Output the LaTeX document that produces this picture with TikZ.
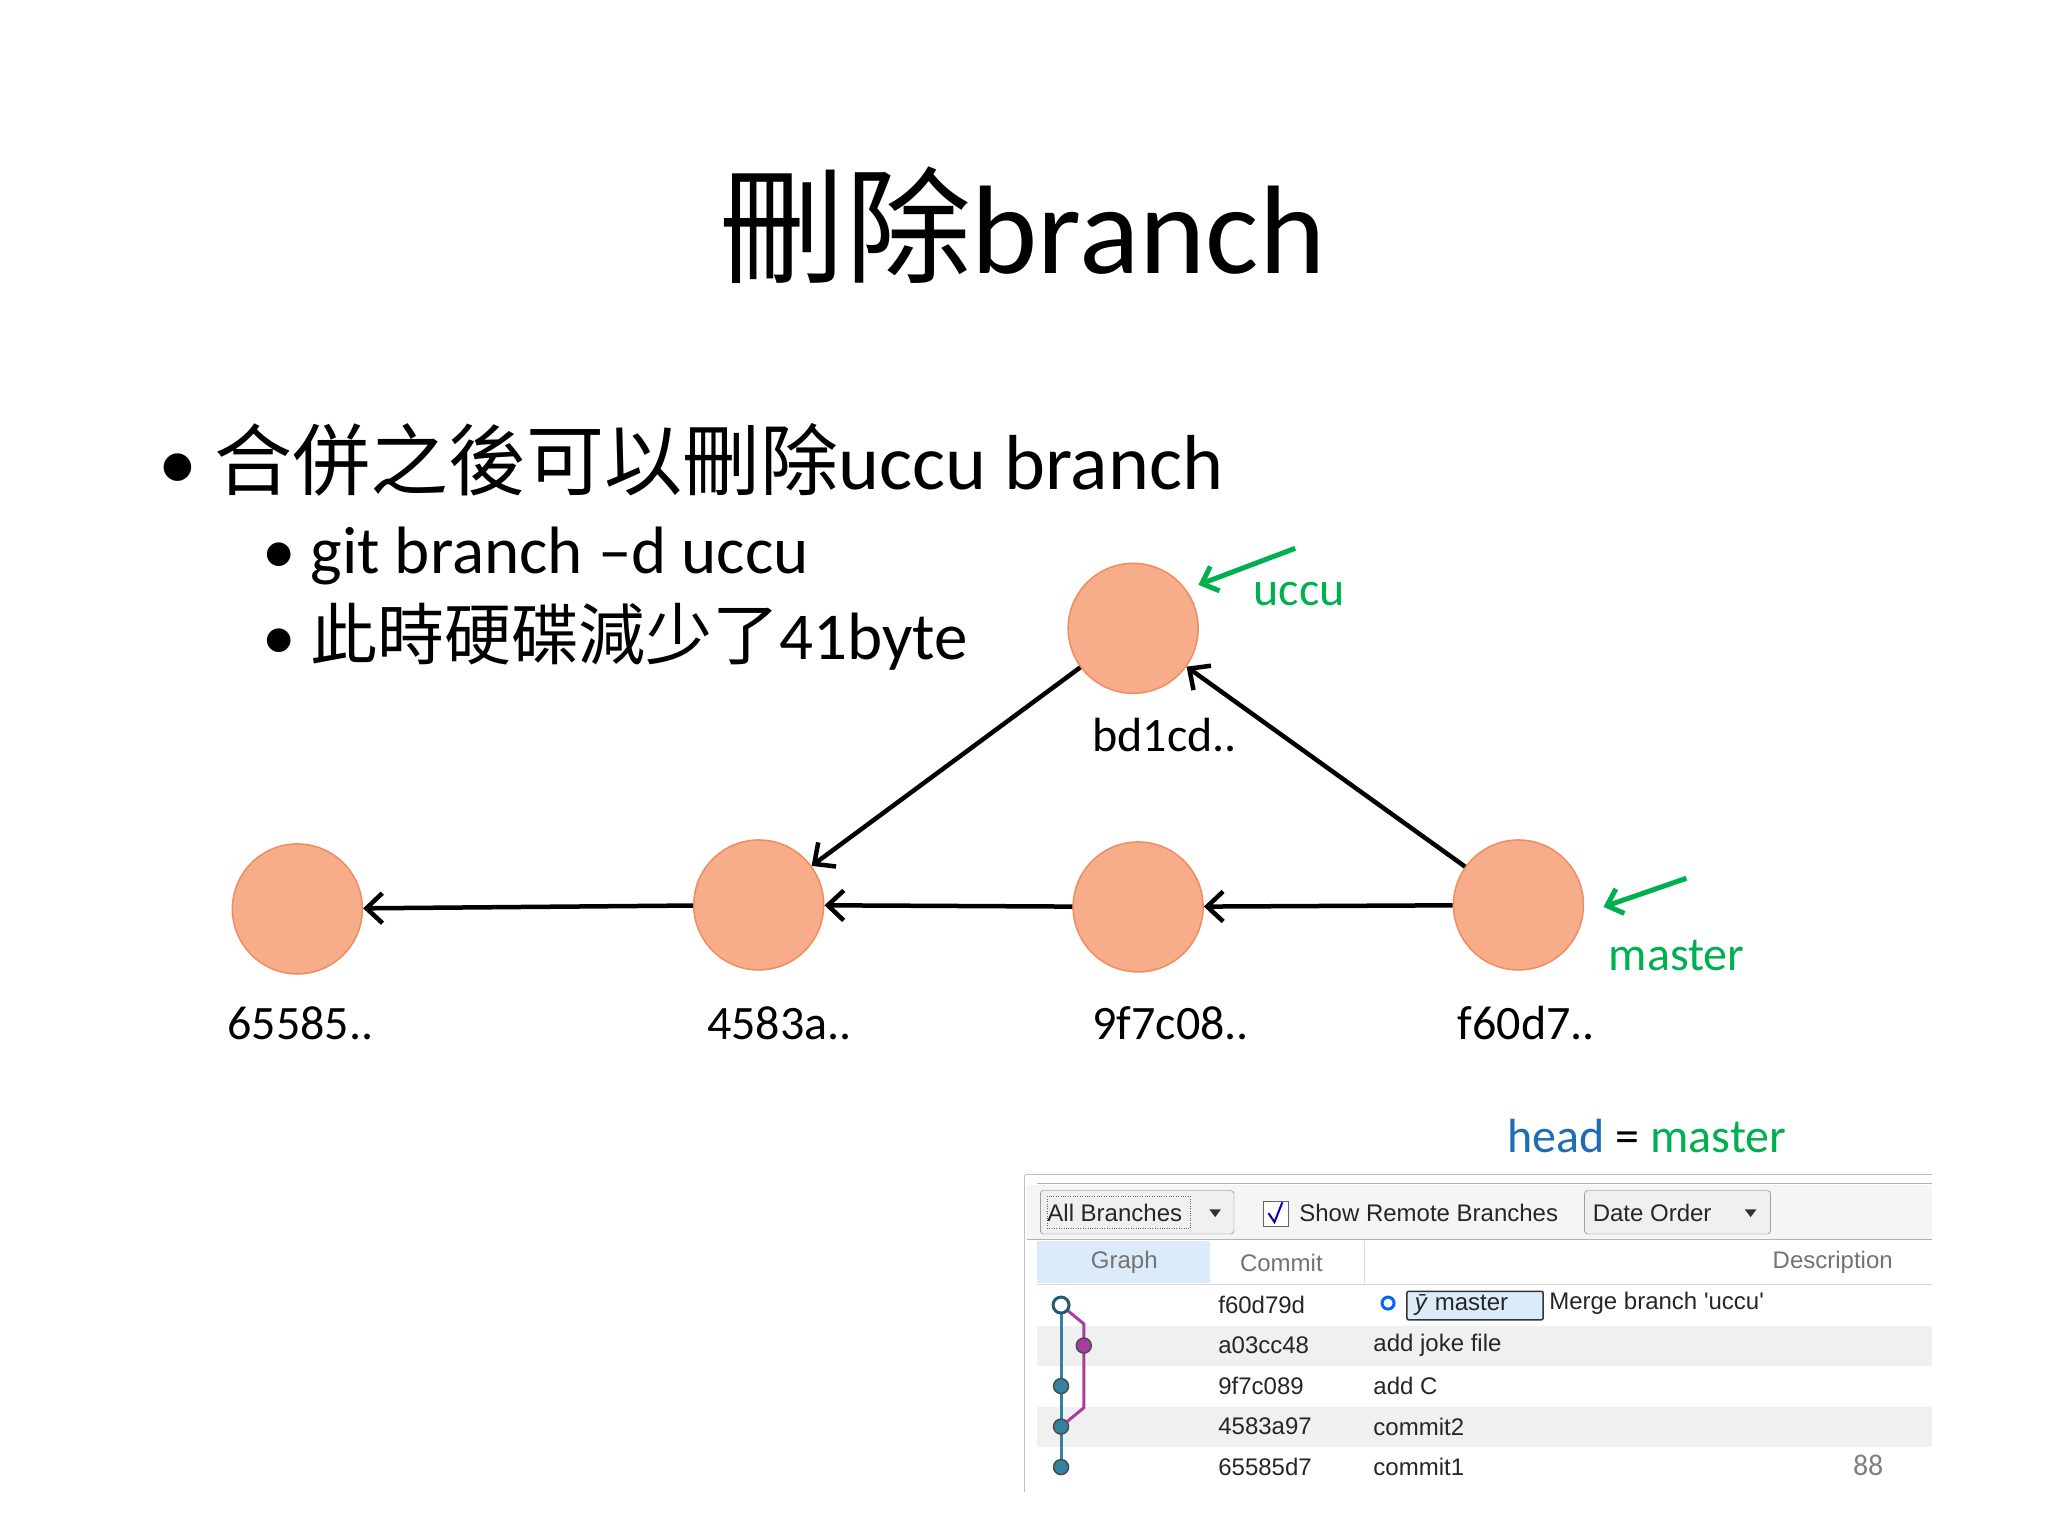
\documentclass[tikz,border=0pt]{standalone}
\usepackage{fontspec}
\setmainfont{Carlito}
\newfontfamily\cjk{Noto Sans CJK TC}
\newfontfamily\uifont{Liberation Sans}
\usetikzlibrary{arrows.meta}
\definecolor{nodefill}{RGB}{247,172,138}
\definecolor{nodedraw}{RGB}{240,140,95}
\definecolor{grn}{RGB}{0,176,80}
\definecolor{hblue}{RGB}{31,110,180}
\definecolor{gblue}{RGB}{50,130,160}
\definecolor{gpurp}{RGB}{170,60,160}
\definecolor{rowgray}{RGB}{240,240,240}
\definecolor{hdrblue}{RGB}{220,235,250}
\tikzset{
 commit/.style={circle,minimum size=130pt,inner sep=0pt,fill=nodefill,draw=nodedraw,line width=1.5pt},
 lbl/.style={font=\fontsize{48}{56}\selectfont,anchor=center},
 edge/.style={line width=4.5pt,-{Straight Barb[length=16pt,width=30pt,line width=4.5pt]}},
 garrow/.style={grn,line width=5pt,-{Straight Barb[length=14pt,width=26pt,line width=5pt]}},
 ss/.style={font=\uifont\fontsize{24}{28}\selectfont,text=black!85,inner sep=0pt},
 gdot/.style={circle,minimum size=15pt,inner sep=0pt,fill=gblue,draw=black!70,line width=1.5pt},
}
\begin{document}
\begin{tikzpicture}[x=0.988pt,y=-0.988pt]
\useasboundingbox[fill=white] (0,0) rectangle (2073,1555);
% title
\node (title) at (1035,228) {\fontsize{126}{140}\selectfont{\cjk 刪除}branch};
% bullets
\node[anchor=base west,inner sep=0pt] (b1) at (160,495) {\fontsize{78}{90}\selectfont • {\cjk 合併之後可以刪除}uccu branch};
\node[anchor=base west,inner sep=0pt] (b2) at (265,580) {\fontsize{67}{74}\selectfont • git branch –d uccu};
\node[anchor=base west,inner sep=0pt] (b3) at (265,668) {\fontsize{67}{74}\selectfont • {\cjk 此時硬碟減少了}41byte};
% commits
\node[commit] (c1) at (301,920) {};
\node[commit] (c2) at (768,916) {};
\node[commit] (c3) at (1152,918) {};
\node[commit] (c4) at (1537,916) {};
\node[commit] (c5) at (1147,636) {};
\node[lbl] (l1) at (304,1036) {65585..};
\node[lbl] (l2) at (789,1036) {4583a..};
\node[lbl] (l3) at (1185,1036) {9f7c08..};
\node[lbl] (l4) at (1545,1036) {f60d7..};
\node[lbl] (l5) at (1179,744) {bd1cd..};
\draw[edge] (c2) -- (c1);
\draw[edge] (c3) -- (c2);
\draw[edge] (c4) -- (c3);
\draw[edge] (c5) -- (c2);
\draw[edge] (c4) -- (c5);
% branch labels
\node[lbl,text=grn] (uccu) at (1315,601) {uccu};
\coordinate (ua) at (1311,555);
\coordinate (ub) at (1213,592);
\draw[garrow] (ua) -- (ub);
\node[lbl,text=grn] (master) at (1697,967) {master};
\coordinate (ma) at (1707,889);
\coordinate (mb) at (1623,918);
\draw[garrow] (ma) -- (mb);
\node[lbl] (head) at (1667,1150) {{\color{hblue}head} = {\color{grn}master}};
% screenshot
\draw[black!25,line width=1pt] (1037,1189) -- (1956,1189);
\draw[black!25,line width=1pt] (1037,1189) -- (1037,1510);
\draw[black!30,line width=1.5pt] (1050,1198) -- (1956,1198);
\fill[black!4] (1040,1199) rectangle (1956,1254);
\draw[black!30] (1040,1254) -- (1956,1254);
\draw[black!55,rounded corners=3pt,fill=black!6] (1053,1205) rectangle (1249,1249);
\draw[black!60,dotted] (1060,1211) rectangle (1205,1243);
\node[ss,anchor=west] (allb) at (1060,1228) {All Branches};
\fill[black!80] (1224,1224) -- (1236,1224) -- (1230,1232) -- cycle;
\draw[black!60,fill=white] (1279,1216) rectangle (1304,1241);
\draw[blue!70!black,line width=2pt] (1284,1228) -- (1290,1237) -- (1298,1217);
\node[ss,anchor=west] (srb) at (1315,1228) {Show Remote Branches};
\draw[black!55,rounded corners=3pt,fill=black!6] (1604,1205) rectangle (1792,1249);
\node[ss,anchor=west] (dord) at (1612,1228) {Date Order};
\fill[black!80] (1766,1224) -- (1778,1224) -- (1772,1232) -- cycle;
% header
\fill[hdrblue] (1050,1256) rectangle (1225,1299);
\draw[black!15] (1381,1256) -- (1381,1299);
\draw[black!15] (1050,1300) -- (1956,1300);
\node[ss,text=black!55] (hg) at (1138,1278) {Graph};
\node[ss,text=black!55,anchor=west] (hc) at (1255,1278) {Commit};
\node[ss,text=black!55,anchor=east] (hd) at (1916,1278) {Description};
% rows
\fill[rowgray] (1050,1342) rectangle (1956,1383);
\fill[rowgray] (1050,1424) rectangle (1956,1465);
\draw[gblue,line width=3pt] (1074,1321) -- (1074,1485);
\draw[gpurp,line width=3pt] (1074,1321) -- (1097,1340) -- (1097,1425) -- (1074,1444);
\node[gdot,fill=white,draw=gblue!70!black,line width=3pt,minimum size=16pt] (g1) at (1074,1321) {};
\node[gdot,fill=gpurp] (g2) at (1097,1362) {};
\node[gdot] (g3) at (1074,1403) {};
\node[gdot] (g4) at (1074,1444) {};
\node[gdot] (g5) at (1074,1485) {};
\node[ss,anchor=west] (r1) at (1233,1321) {f60d79d};
\node[ss,anchor=west] (r2) at (1233,1362) {a03cc48};
\node[ss,anchor=west] (r3) at (1233,1403) {9f7c089};
\node[ss,anchor=west] (r4) at (1233,1444) {4583a97};
\node[ss,anchor=west] (r5) at (1233,1485) {65585d7};
\draw[blue!60!cyan,line width=3pt] (1405,1319) circle (6pt);
\draw[black!80,fill=hdrblue,rounded corners=2pt,line width=1.5pt] (1424,1307) rectangle (1562,1336);
\node[ss,anchor=west] (mb1) at (1432,1321) {\textit{ȳ} master};
\node[ss,anchor=west] (d1) at (1568,1319) {Merge branch 'uccu'};
\node[ss,anchor=west] (d2) at (1390,1362) {add joke file};
\node[ss,anchor=west] (d3) at (1390,1403) {add C};
\node[ss,anchor=west] (d4) at (1390,1444) {commit2};
\node[ss,anchor=west] (d5) at (1390,1485) {commit1};
\node[font=\fontsize{30}{34}\selectfont,text=black!50] (pg) at (1891,1483) {88};
\end{tikzpicture}
\end{document}
